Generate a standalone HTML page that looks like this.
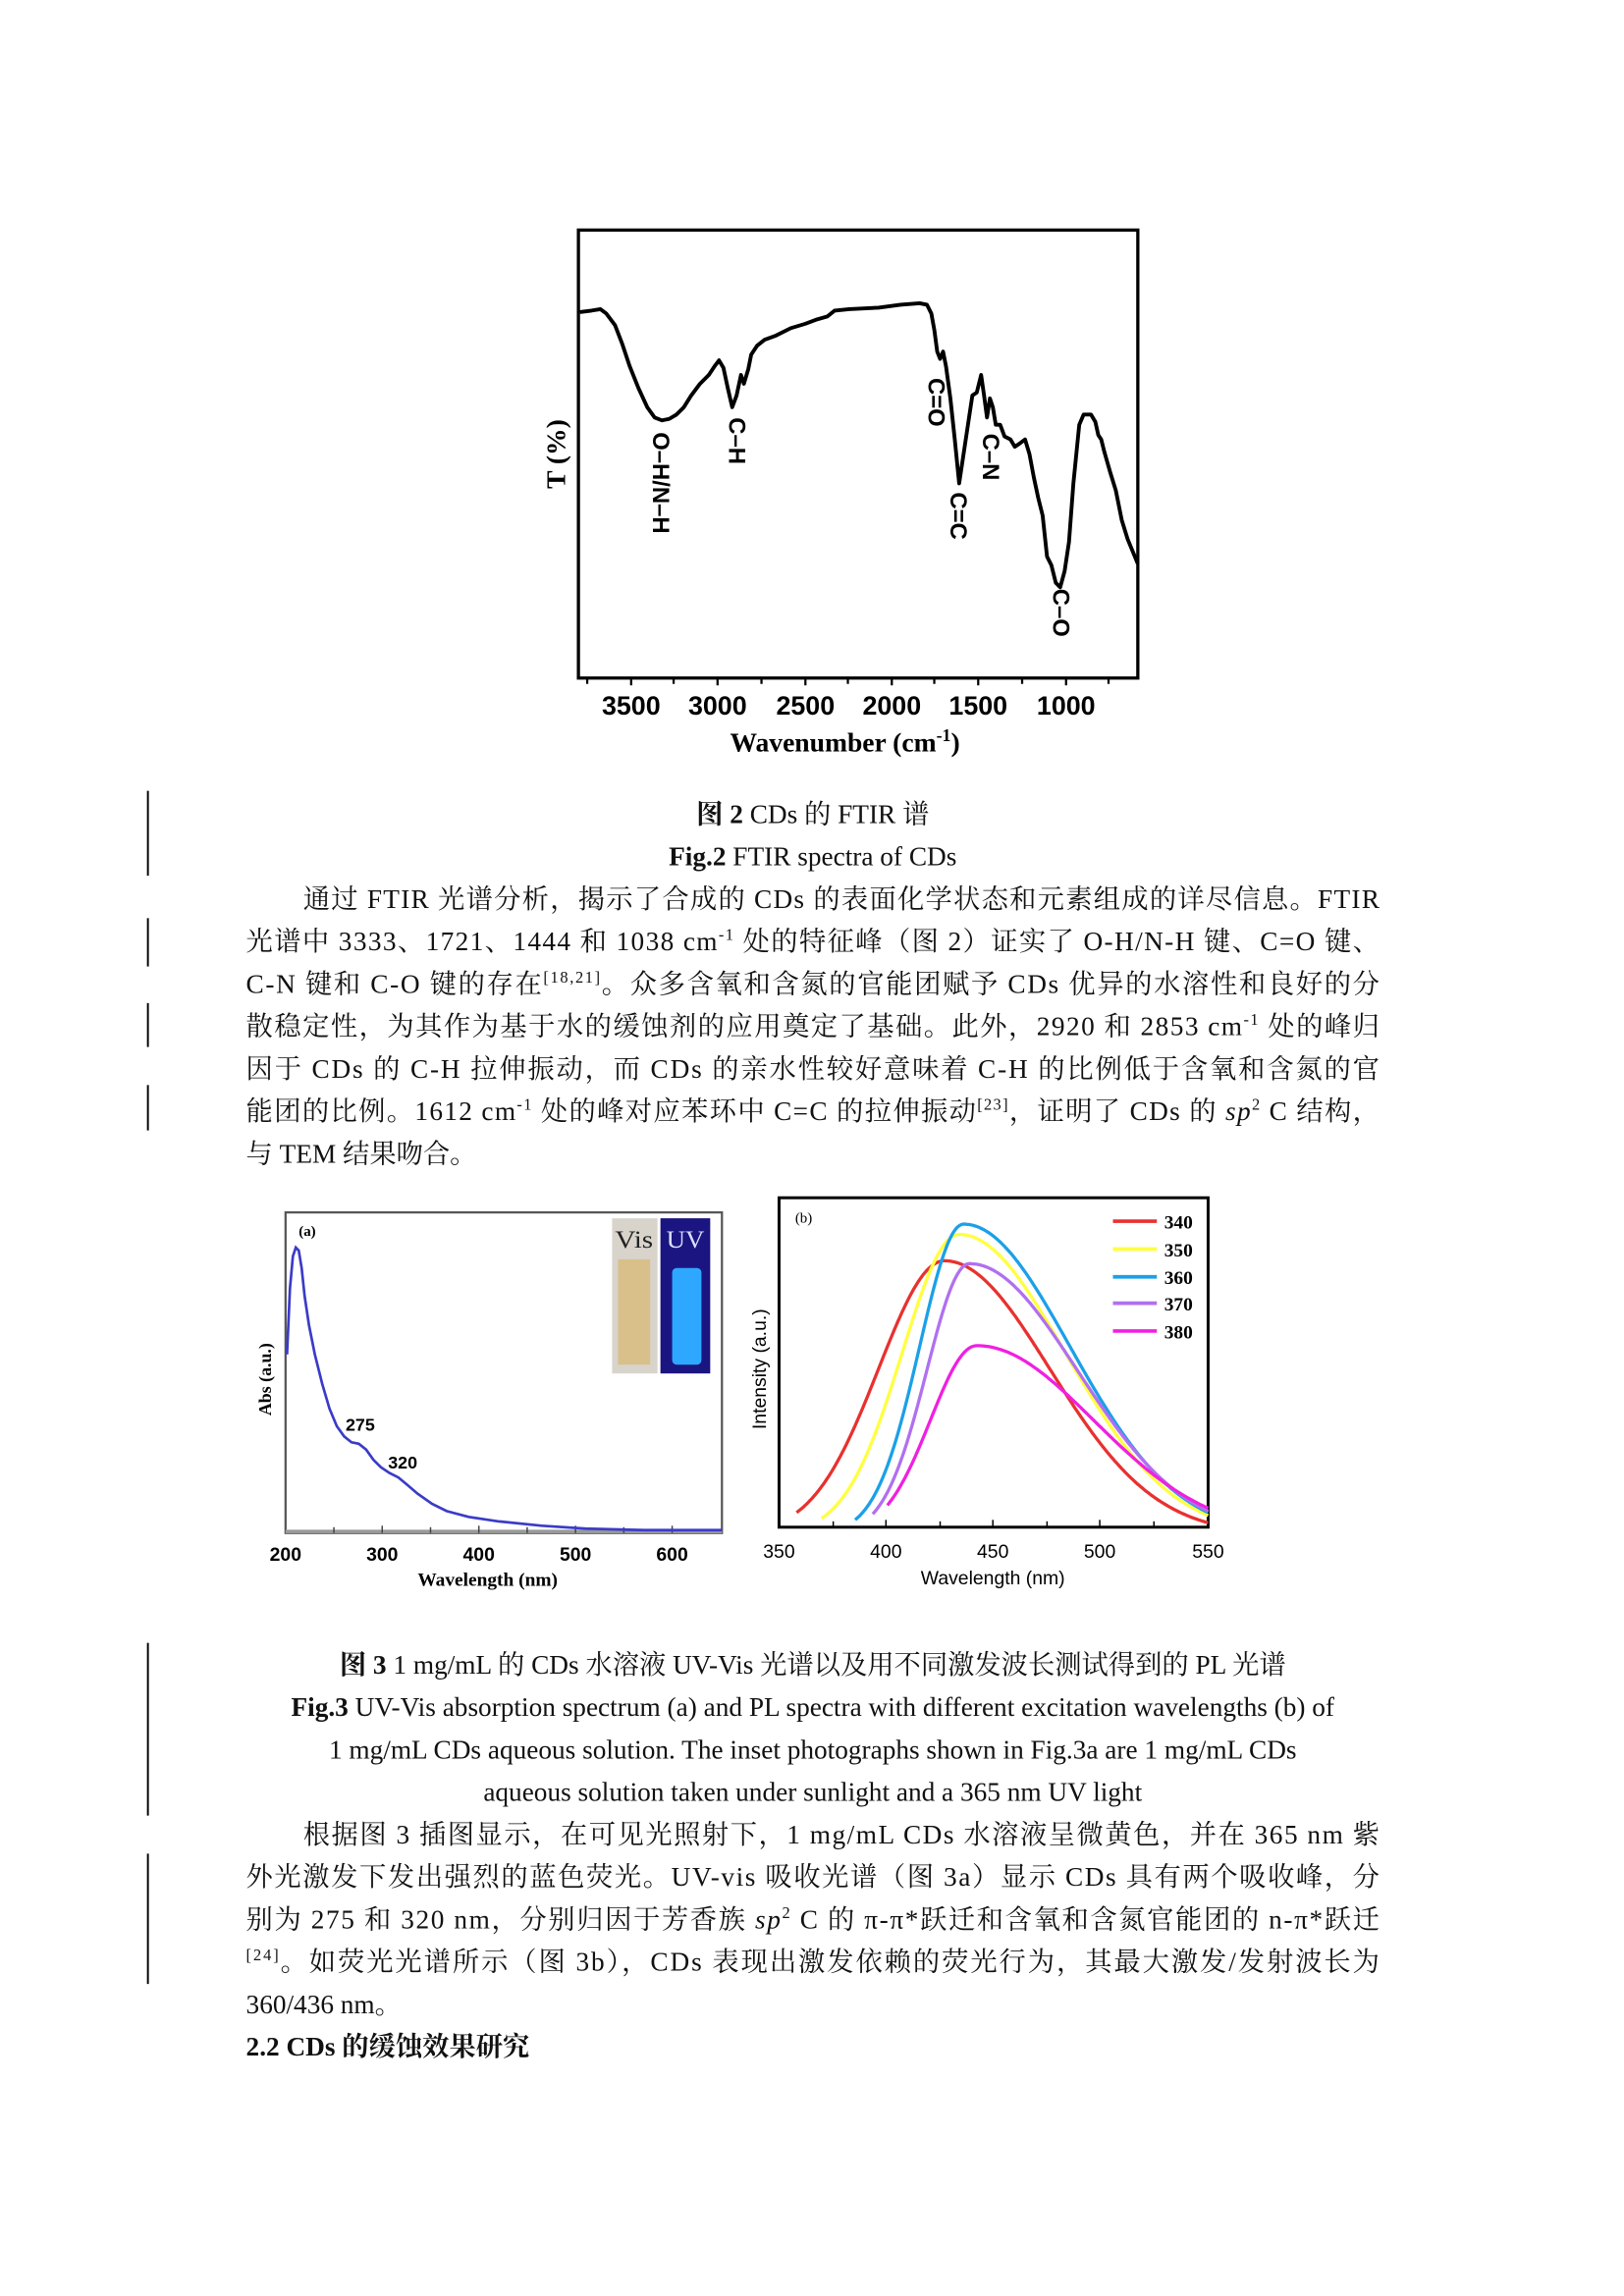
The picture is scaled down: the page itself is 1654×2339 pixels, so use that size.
<!DOCTYPE html>
<html><head><meta charset="utf-8">
<style>
html,body{margin:0;padding:0;background:#fff;}
svg{display:block;}
.t{font-family:"Liberation Serif","Noto Serif CJK SC",serif;font-size:18.3px;fill:#111;}
.s{font-family:"Liberation Sans",sans-serif;font-weight:bold;fill:#000;}
</style></head><body>
<svg width="1654" height="2339" viewBox="0 0 1109 1568" xmlns="http://www.w3.org/2000/svg">
<rect width="1120" height="1580" fill="#fff"/>
<!-- change bars -->
<g stroke="#000" stroke-width="1.3">
<line x1="101" y1="540" x2="101" y2="598"/><line x1="101" y1="627" x2="101" y2="660"/>
<line x1="101" y1="685" x2="101" y2="715"/><line x1="101" y1="741" x2="101" y2="772"/>
<line x1="101" y1="1122" x2="101" y2="1240"/><line x1="101" y1="1266" x2="101" y2="1355"/>
</g>
<!-- FTIR -->
<rect x="395" y="157" width="382" height="306" fill="none" stroke="#000" stroke-width="2.2"/>
<g stroke="#000" stroke-width="1.5">
<line x1="401" y1="463" x2="401" y2="467"/><line x1="431" y1="463" x2="431" y2="468"/><line x1="460" y1="463" x2="460" y2="467"/><line x1="490" y1="463" x2="490" y2="468"/><line x1="520" y1="463" x2="520" y2="467"/><line x1="550" y1="463" x2="550" y2="468"/><line x1="579" y1="463" x2="579" y2="467"/><line x1="609" y1="463" x2="609" y2="468"/><line x1="638" y1="463" x2="638" y2="467"/><line x1="668" y1="463" x2="668" y2="468"/><line x1="698" y1="463" x2="698" y2="467"/><line x1="728" y1="463" x2="728" y2="468"/><line x1="757" y1="463" x2="757" y2="467"/>
</g>
<g class="s" font-size="18" text-anchor="middle">
<text x="431" y="488">3500</text><text x="490" y="488">3000</text><text x="550" y="488">2500</text><text x="609" y="488">2000</text><text x="668" y="488">1500</text><text x="728" y="488">1000</text>
</g>
<text x="577" y="513" text-anchor="middle" font-family="Liberation Serif,serif" font-weight="bold" font-size="18.5">Wavenumber (cm<tspan font-size="12" dy="-7">-1</tspan><tspan dy="7">)</tspan></text>
<text transform="translate(386,310) rotate(-90)" text-anchor="middle" font-family="Liberation Serif,serif" font-weight="bold" font-size="18.5">T (%)</text>
<polyline fill="none" stroke="#000" stroke-width="2.6" stroke-linejoin="round" points="396,213 404,212 410,211 414,214 420,222 425,235 430,250 436,265 442,278 447,285 452,287 457,286 462,283 467,278 472,270 478,262 484,256 488,250 491,246 494,251 497,265 500,278 503,270 506,256 508,262 511,252 513,242 517,236 522,232 530,229 540,224 550,221 558,218 565,216 570,212 580,211 600,210 615,208 628,207 633,208 636,214 638,225 640,240 642,245 644,240 646,250 649,272 652,300 655,330 658,310 661,290 664,270 667,268 670,256 672,270 674,285 676,272 678,278 680,290 683,290 686,298 690,300 693,305 696,303 700,300 703,310 706,326 709,340 712,352 715,380 718,386 721,398 724,401 727,390 730,370 733,330 737,290 740,283 745,283 748,288 750,297 752,300 754,308 756,315 758,322 762,335 766,355 770,368 777,385"/>
<g class="s" font-size="16">
<text transform="translate(446,295) rotate(90)">O–H/N–H</text>
<text transform="translate(498,285) rotate(90)">C–H</text>
<text transform="translate(634,258) rotate(90)">C=O</text>
<text transform="translate(649,336) rotate(90)">C=C</text>
<text transform="translate(671,296) rotate(90)">C–N</text>
<text transform="translate(719,402) rotate(90)">C–O</text>
</g>
<!-- captions & paragraph 1 -->
<text class="t" x="555" y="562" text-anchor="middle"><tspan font-weight="bold">图 2</tspan> CDs 的 FTIR 谱</text>
<text class="t" x="555" y="591" text-anchor="middle"><tspan font-weight="bold">Fig.2</tspan> FTIR spectra of CDs</text>
<text class="t" x="207" y="620" textLength="735" lengthAdjust="spacing">通过 FTIR 光谱分析，揭示了合成的 CDs 的表面化学状态和元素组成的详尽信息。FTIR</text>
<text class="t" x="168" y="649" textLength="774" lengthAdjust="spacing">光谱中 3333、1721、1444 和 1038 cm<tspan font-size="11" dy="-7">-1</tspan><tspan dy="7"> 处的特征峰（图 2）证实了 O-H/N-H 键、C=O 键、</tspan></text>
<text class="t" x="168" y="678" textLength="774" lengthAdjust="spacing">C-N 键和 C-O 键的存在<tspan font-size="11" dy="-7">[18,21]</tspan><tspan dy="7">。众多含氧和含氮的官能团赋予 CDs 优异的水溶性和良好的分</tspan></text>
<text class="t" x="168" y="707" textLength="774" lengthAdjust="spacing">散稳定性，为其作为基于水的缓蚀剂的应用奠定了基础。此外，2920 和 2853 cm<tspan font-size="11" dy="-7">-1</tspan><tspan dy="7"> 处的峰归</tspan></text>
<text class="t" x="168" y="736" textLength="774" lengthAdjust="spacing">因于 CDs 的 C-H 拉伸振动，而 CDs 的亲水性较好意味着 C-H 的比例低于含氧和含氮的官</text>
<text class="t" x="168" y="765" textLength="774" lengthAdjust="spacing">能团的比例。1612 cm<tspan font-size="11" dy="-7">-1</tspan><tspan dy="7"> 处的峰对应苯环中 C=C 的拉伸振动</tspan><tspan font-size="11" dy="-7">[23]</tspan><tspan dy="7">，证明了 CDs 的 </tspan><tspan font-style="italic">sp</tspan><tspan font-size="11" dy="-7">2</tspan><tspan dy="7"> C 结构，</tspan></text>
<text class="t" x="168" y="794">与 TEM 结果吻合。</text>
<!-- Fig 3a -->
<rect x="195" y="828" width="298" height="219" fill="none" stroke="#555" stroke-width="1.5"/>
<line x1="195" y1="1046" x2="493" y2="1046" stroke="#999" stroke-width="2.5"/>
<g stroke="#444" stroke-width="1"><line x1="228" y1="1047" x2="228" y2="1043"/><line x1="261" y1="1047" x2="261" y2="1042"/><line x1="294" y1="1047" x2="294" y2="1043"/><line x1="327" y1="1047" x2="327" y2="1042"/><line x1="360" y1="1047" x2="360" y2="1043"/><line x1="393" y1="1047" x2="393" y2="1042"/><line x1="426" y1="1047" x2="426" y2="1043"/><line x1="459" y1="1047" x2="459" y2="1042"/></g>
<text x="204" y="844" font-family="Liberation Serif,serif" font-size="10" font-weight="bold">(a)</text>
<rect x="418" y="832" width="31" height="106" fill="#d8d4cc"/>
<rect x="422" y="860" width="22" height="72" fill="#d9c08a"/>
<text x="433" y="852" text-anchor="middle" font-family="Liberation Serif,serif" font-size="17" fill="#222" textLength="26" lengthAdjust="spacingAndGlyphs">Vis</text>
<rect x="451" y="832" width="34" height="106" fill="#1a1580"/>
<rect x="459" y="866" width="20" height="66" rx="3" fill="#2ea8ff"/>
<text x="468" y="852" text-anchor="middle" font-family="Liberation Serif,serif" font-size="17" fill="#d8e0ff" textLength="26" lengthAdjust="spacingAndGlyphs">UV</text>
<polyline fill="none" stroke="#3b3bc8" stroke-width="1.8" points="196,925 198,880 200,858 202,852 204,854 206,866 208,885 211,905 215,925 220,945 225,962 230,974 235,981 240,985 245,986 250,990 255,997 260,1002 266,1006 272,1009 278,1014 285,1020 295,1027 305,1032 320,1036 340,1039 370,1042 400,1044 440,1045 493,1045"/>
<g class="s" font-size="12"><text x="236" y="977">275</text><text x="265" y="1003">320</text></g>
<g class="s" font-size="13" text-anchor="middle"><text x="195" y="1066">200</text><text x="261" y="1066">300</text><text x="327" y="1066">400</text><text x="393" y="1066">500</text><text x="459" y="1066">600</text></g>
<text x="333" y="1083" text-anchor="middle" font-family="Liberation Serif,serif" font-weight="bold" font-size="13">Wavelength (nm)</text>
<text transform="translate(185,942) rotate(-90)" text-anchor="middle" font-family="Liberation Serif,serif" font-weight="bold" font-size="12">Abs (a.u.)</text>
<!-- Fig 3b -->
<rect x="532" y="818" width="293" height="225" fill="none" stroke="#000" stroke-width="2"/>
<g stroke="#000" stroke-width="1"><line x1="569" y1="1043" x2="569" y2="1039"/><line x1="605" y1="1043" x2="605" y2="1038"/><line x1="642" y1="1043" x2="642" y2="1039"/><line x1="678" y1="1043" x2="678" y2="1038"/><line x1="715" y1="1043" x2="715" y2="1039"/><line x1="751" y1="1043" x2="751" y2="1038"/><line x1="788" y1="1043" x2="788" y2="1039"/></g>
<text x="543" y="835" font-family="Liberation Serif,serif" font-size="10">(b)</text>
<g id="pl" fill="none" stroke-width="2.2"></g>
<g stroke-width="2.5"><line x1="760" y1="834" x2="790" y2="834" stroke="#e8312f"/><line x1="760" y1="853" x2="790" y2="853" stroke="#ffff40"/><line x1="760" y1="872" x2="790" y2="872" stroke="#1ba0e8"/><line x1="760" y1="890" x2="790" y2="890" stroke="#b070f0"/><line x1="760" y1="909" x2="790" y2="909" stroke="#f020e0"/></g>
<g font-family="Liberation Serif,serif" font-weight="bold" font-size="13"><text x="795" y="839">340</text><text x="795" y="858">350</text><text x="795" y="877">360</text><text x="795" y="895">370</text><text x="795" y="914">380</text></g>
<g font-family="Liberation Sans,sans-serif" font-size="13" text-anchor="middle"><text x="532" y="1064">350</text><text x="605" y="1064">400</text><text x="678" y="1064">450</text><text x="751" y="1064">500</text><text x="825" y="1064">550</text></g>
<text x="678" y="1082" text-anchor="middle" font-family="Liberation Sans,sans-serif" font-size="13">Wavelength (nm)</text>
<text transform="translate(523,935) rotate(-90)" text-anchor="middle" font-family="Liberation Sans,sans-serif" font-size="13">Intensity (a.u.)</text>
<!-- caption 3 & paragraph 2 -->
<text class="t" x="555" y="1143" text-anchor="middle"><tspan font-weight="bold">图 3</tspan> 1 mg/mL 的 CDs 水溶液 UV-Vis 光谱以及用不同激发波长测试得到的 PL 光谱</text>
<text class="t" x="555" y="1172" text-anchor="middle"><tspan font-weight="bold">Fig.3</tspan> UV-Vis absorption spectrum (a) and PL spectra with different excitation wavelengths (b) of</text>
<text class="t" x="555" y="1201" text-anchor="middle">1 mg/mL CDs aqueous solution. The inset photographs shown in Fig.3a are 1 mg/mL CDs</text>
<text class="t" x="555" y="1230" text-anchor="middle">aqueous solution taken under sunlight and a 365 nm UV light</text>
<text class="t" x="207" y="1259" textLength="735" lengthAdjust="spacing">根据图 3 插图显示，在可见光照射下，1 mg/mL CDs 水溶液呈微黄色，并在 365 nm 紫</text>
<text class="t" x="168" y="1288" textLength="774" lengthAdjust="spacing">外光激发下发出强烈的蓝色荧光。UV-vis 吸收光谱（图 3a）显示 CDs 具有两个吸收峰，分</text>
<text class="t" x="168" y="1317" textLength="774" lengthAdjust="spacing">别为 275 和 320 nm，分别归因于芳香族 <tspan font-style="italic">sp</tspan><tspan font-size="11" dy="-7">2</tspan><tspan dy="7"> C 的 π-π*跃迁和含氧和含氮官能团的 n-π*跃迁</tspan></text>
<text class="t" x="168" y="1346" textLength="774" lengthAdjust="spacing"><tspan font-size="11" dy="-7">[24]</tspan><tspan dy="7">。如荧光光谱所示（图 3b），CDs 表现出激发依赖的荧光行为，其最大激发/发射波长为</tspan></text>
<text class="t" x="168" y="1375">360/436 nm。</text>
<text class="t" x="168" y="1404" font-weight="bold">2.2 CDs 的缓蚀效果研究</text>
</svg>
<script>
(function(){
var B=1048,g=document.getElementById('pl');
var c=[["#e8312f",544,1033,645,861,1040],["#ffff40",561,1037,655,843,1035],["#1ba0e8",584,1038,658,836,1033],["#b070f0",596,1034,662,863,1032],["#f020e0",606,1028,667,919,1030]];
c.forEach(function(k){
var xs=k[1],ys=k[2],p=k[3],yp=k[4],ye=k[5],A=B-yp;
var wL=(p-xs)/Math.sqrt(-Math.log((B-ys)/A)),wR=(825-p)/Math.sqrt(-Math.log((B-ye)/A));
var pts=[];for(var x=xs;x<=825;x+=1){var w=x<p?wL:wR;var y=B-A*Math.exp(-Math.pow((x-p)/w,2));pts.push(x+","+y.toFixed(1));}
var e=document.createElementNS("http://www.w3.org/2000/svg","polyline");
e.setAttribute("points",pts.join(" "));e.setAttribute("stroke",k[0]);g.appendChild(e);
});
})();
</script>
</body></html>
